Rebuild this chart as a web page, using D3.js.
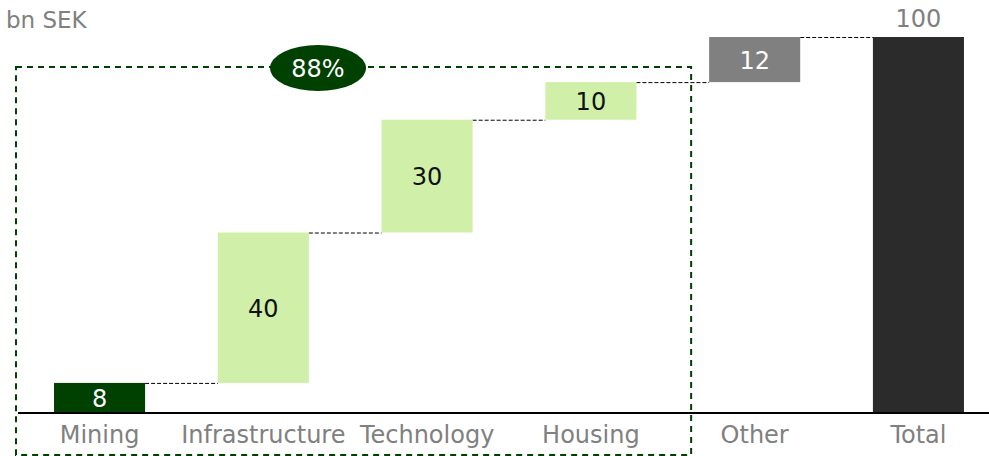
<!DOCTYPE html>
<html>
<head>
<meta charset="utf-8">
<script src="https://cdn.jsdelivr.net/npm/d3@7"></script>
<style>
  html, body { margin: 0; padding: 0; background: #fff; }
  svg { display: block; font-family: "DejaVu Sans", sans-serif; }
</style>
</head>
<body>
<svg id="chart" width="989" height="456"></svg>
<script>
var categories = ["Mining", "Infrastructure", "Technology", "Housing", "Other", "Total"];
var values = [8, 40, 30, 10, 12, 100];
var kinds = ["core", "part", "part", "part", "other", "total"];
var shareLabel = "88%";
var unitLabel = "bn SEK";

var colors = { core: "#004000", part: "#d0f0aa", other: "#808080", total: "#2b2b2b" };
var labelColors = { core: "#ffffff", part: "#111111", other: "#ffffff", total: "#808080" };

// running totals for the waterfall
var acc = 0;
var bars = categories.map(function(c, i){
  var start, end;
  if (kinds[i] === "total") { start = 0; end = values[i]; }
  else { start = acc; end = acc + values[i]; acc = end; }
  return { name: c, value: values[i], kind: kinds[i], start: start, end: end };
});

var svg = d3.select("#chart");

var x = d3.scaleBand().domain(categories).range([18, 1000])
  .paddingInner(0.444).paddingOuter(0.22);
var y = d3.scaleLinear().domain([0, 100]).range([413, 37]);
var bw = x.bandwidth();

// connectors
for (var i = 0; i < bars.length - 1; i++) {
  var lvl = bars[i].end;
  svg.append("line")
    .attr("x1", x(bars[i].name) + bw).attr("x2", x(bars[i+1].name))
    .attr("y1", y(lvl) + 0.5).attr("y2", y(lvl) + 0.5)
    .attr("stroke", "#000").attr("stroke-width", 1)
    .attr("stroke-dasharray", "4,2");
}

svg.selectAll("rect.bar").data(bars).enter().append("rect")
  .attr("class", "bar")
  .attr("x", function(d){ return x(d.name); })
  .attr("y", function(d){ return y(d.end); })
  .attr("width", bw)
  .attr("height", function(d){ return y(d.start) - y(d.end); })
  .attr("fill", function(d){ return colors[d.kind]; });

// value labels
svg.selectAll("text.val").data(bars).enter().append("text")
  .attr("class", "val")
  .attr("x", function(d){ return x(d.name) + bw / 2; })
  .attr("y", function(d){
    if (d.kind === "total") return y(d.end) - 18;
    return (y(d.start) + y(d.end)) / 2 + 1;
  })
  .attr("text-anchor", "middle")
  .attr("dominant-baseline", "central")
  .attr("font-size", 24)
  .attr("fill", function(d){ return labelColors[d.kind]; })
  .text(function(d){ return d.value; });

// baseline
svg.append("line")
  .attr("x1", 18).attr("x2", 989)
  .attr("y1", y(0)).attr("y2", y(0))
  .attr("stroke", "#000").attr("stroke-width", 2);

// category labels
svg.selectAll("text.cat").data(categories).enter().append("text")
  .attr("class", "cat")
  .attr("x", function(d){ return x(d) + bw / 2; })
  .attr("y", 435)
  .attr("text-anchor", "middle")
  .attr("dominant-baseline", "central")
  .attr("font-size", 24)
  .attr("fill", "#808080")
  .text(function(d){ return d; });

// dashed group box around the first four
var boxTop = y(88) - 15;
var boxLeft = 16, boxRight = x("Other") - 18, boxBottom = 455;
svg.append("rect")
  .attr("x", boxLeft).attr("y", boxTop)
  .attr("width", boxRight - boxLeft).attr("height", boxBottom - boxTop)
  .attr("fill", "none").attr("stroke", "#004000").attr("stroke-width", 2)
  .attr("stroke-dasharray", "6,5");

svg.append("ellipse")
  .attr("cx", 318).attr("cy", boxTop + 1)
  .attr("rx", 48).attr("ry", 23)
  .attr("fill", "#004000");
svg.append("text")
  .attr("x", 318).attr("y", boxTop + 2)
  .attr("text-anchor", "middle").attr("dominant-baseline", "central")
  .attr("font-size", 24).attr("fill", "#fff")
  .text(shareLabel);

svg.append("text")
  .attr("x", 6).attr("y", 20)
  .attr("dominant-baseline", "central")
  .attr("font-size", 23).attr("fill", "#808080")
  .text(unitLabel);
</script>
</body>
</html>
